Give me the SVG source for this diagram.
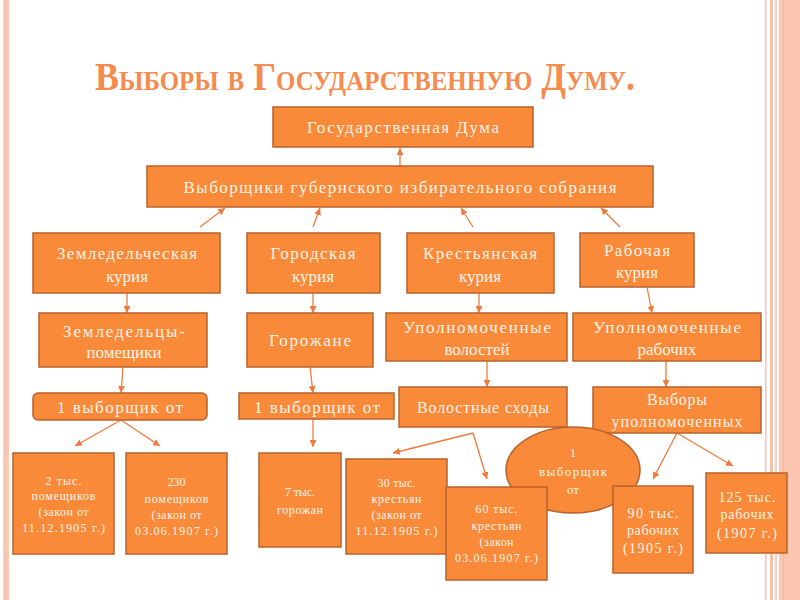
<svg xmlns="http://www.w3.org/2000/svg" width="800" height="600" viewBox="0 0 800 600">
<defs>
<style>
.box{fill:#F98A3A;stroke:#B9622C;stroke-width:1.5}
.t{font-family:"Liberation Serif","DejaVu Serif",serif;fill:#FFF3E8;text-anchor:middle}
.l{font-size:17px}
.m{font-size:16px}
.s{font-size:12px}
.c{stroke:#F07A3C;stroke-width:1.3;fill:none;marker-end:url(#ah)}
.title{font-family:"Liberation Serif","DejaVu Serif",serif;font-size:39px;font-weight:bold;font-variant:small-caps;fill:#F68B4F}
</style>
<marker id="ah" viewBox="0 0 10 10" refX="10" refY="5" markerWidth="7" markerHeight="7" markerUnits="userSpaceOnUse" orient="auto">
<path d="M0,0 L10,5 L0,10 z" fill="#F07A3C"/>
</marker>
</defs>
<rect x="0" y="0" width="800" height="600" fill="#FFFFFF"/>
<g id="border">
<rect x="3" y="0" width="6" height="600" fill="#FBCBB8"/>
<rect x="5.5" y="0" width="1" height="600" fill="#F7B9A2"/>
<rect x="765" y="0" width="1.5" height="600" fill="#F9C2AE"/>
<rect x="770" y="0" width="3" height="600" fill="#F9C0AA"/>
<rect x="775" y="0" width="2" height="600" fill="#FBCDBB"/>
<rect x="779" y="0" width="21" height="600" fill="#FCC6B1"/>
<rect x="783" y="0" width="1" height="600" fill="#F6B49B"/>
</g>
<text class="title" x="365" y="90" textLength="540" lengthAdjust="spacingAndGlyphs" text-anchor="middle">Выборы в Государственную Думу.</text>

<g id="connectors">
<line class="c" x1="400" y1="166" x2="400" y2="148"/>
<line class="c" x1="200" y1="227" x2="225" y2="208"/>
<line class="c" x1="313" y1="227" x2="320" y2="208"/>
<line class="c" x1="473" y1="227" x2="461" y2="208"/>
<line class="c" x1="620" y1="227" x2="601" y2="208"/>
<line class="c" x1="127" y1="293" x2="127" y2="313"/>
<line class="c" x1="313" y1="293" x2="313" y2="313"/>
<line class="c" x1="479" y1="293" x2="479" y2="313"/>
<line class="c" x1="647" y1="287" x2="652" y2="313"/>
<line class="c" x1="123" y1="367" x2="121" y2="393"/>
<line class="c" x1="310" y1="367" x2="313" y2="393"/>
<line class="c" x1="487" y1="361" x2="487" y2="387"/>
<line class="c" x1="666" y1="361" x2="666" y2="387"/>
<line class="c" x1="121" y1="420" x2="75" y2="446"/>
<line class="c" x1="121" y1="420" x2="160" y2="446"/>
<line class="c" x1="313" y1="419" x2="313" y2="447"/>
<line class="c" x1="473" y1="433" x2="393" y2="453"/>
<line class="c" x1="473" y1="433" x2="487" y2="479"/>
<line class="c" x1="677" y1="433" x2="653" y2="479"/>
<line class="c" x1="677" y1="433" x2="733" y2="466"/>
</g>

<g id="duma">
<rect class="box" x="273" y="107" width="260" height="40"/>
<text class="t l" x="403" y="133" textLength="192">Государственная Дума</text>
</g>
<g id="vyborshchiki">
<rect class="box" x="147" y="166" width="506" height="41"/>
<text class="t l" x="400" y="193" textLength="433">Выборщики губернского избирательного собрания</text>
</g>
<g id="zemled-kuriya">
<rect class="box" x="33" y="233" width="187" height="60"/>
<text class="t l" x="127" y="259" textLength="140">Земледельческая</text>
<text class="t l" x="127" y="282">курия</text>
</g>
<g id="gorod-kuriya">
<rect class="box" x="247" y="233" width="133" height="60"/>
<text class="t l" x="313" y="259" textLength="85">Городская</text>
<text class="t l" x="313" y="282">курия</text>
</g>
<g id="krest-kuriya">
<rect class="box" x="407" y="233" width="147" height="60"/>
<text class="t l" x="480" y="259" textLength="114">Крестьянская</text>
<text class="t l" x="480" y="282">курия</text>
</g>
<g id="rab-kuriya">
<rect class="box" x="580" y="233" width="114" height="54"/>
<text class="t l" x="637" y="256" textLength="66">Рабочая</text>
<text class="t l" x="637" y="278">курия</text>
</g>
<g id="zemledeltsy">
<rect class="box" x="39" y="313" width="168" height="54"/>
<text class="t l" x="124" y="337" textLength="122">Земледельцы-</text>
<text class="t l" x="124" y="358">помещики</text>
</g>
<g id="gorozhane">
<rect class="box" x="247" y="313" width="126" height="54"/>
<text class="t l" x="310" y="346" textLength="82">Горожане</text>
</g>
<g id="upoln-volostey">
<rect class="box" x="386" y="313" width="181" height="48"/>
<text class="t l" x="477" y="333" textLength="148">Уполномоченные</text>
<text class="t l" x="477" y="355">волостей</text>
</g>
<g id="upoln-rabochih">
<rect class="box" x="573" y="313" width="188" height="48"/>
<text class="t l" x="667" y="333" textLength="148">Уполномоченные</text>
<text class="t l" x="667" y="355">рабочих</text>
</g>
<g id="vyb-ot-1">
<rect class="box" x="33" y="393" width="174" height="27" rx="5"/>
<text class="t l" x="120" y="413" textLength="126">1 выборщик от</text>
</g>
<g id="vyb-ot-2">
<rect class="box" x="239" y="393" width="155" height="26"/>
<text class="t l" x="317" y="413" textLength="126">1 выборщик от</text>
</g>
<g id="volost-shody">
<rect class="box" x="399" y="387" width="168" height="40"/>
<text class="t m" x="483" y="413" textLength="132">Волостные сходы</text>
</g>
<g id="vybory-upoln">
<rect class="box" x="593" y="387" width="168" height="46"/>
<text class="t m" x="677" y="405" textLength="60">Выборы</text>
<text class="t m" x="677" y="427" textLength="131">уполномоченных</text>
</g>
<g id="p2000">
<rect class="box" x="13" y="453" width="101" height="101"/>
<text class="t s" x="63.5" y="485" textLength="36">2 тыс.</text>
<text class="t s" x="63.5" y="500" textLength="64">помещиков</text>
<text class="t s" x="63.5" y="516" textLength="50">(закон от</text>
<text class="t s" x="63.5" y="532" textLength="83">11.12.1905 г.)</text>
</g>
<g id="p230">
<rect class="box" x="126" y="453" width="101" height="101"/>
<text class="t s" x="176.5" y="486">230</text>
<text class="t s" x="176.5" y="503" textLength="64">помещиков</text>
<text class="t s" x="176.5" y="519" textLength="50">(закон от</text>
<text class="t s" x="176.5" y="535" textLength="83">03.06.1907 г.)</text>
</g>
<g id="g7000">
<rect class="box" x="259" y="453" width="82" height="94"/>
<text class="t s" x="300" y="496" textLength="30">7 тыс.</text>
<text class="t s" x="300" y="514" textLength="46">горожан</text>
</g>
<g id="ellipse-vyb">
<ellipse cx="573" cy="470" rx="67" ry="43" fill="#F98A3A" stroke="#B9622C" stroke-width="1.5"/>
<text class="t" font-size="13" x="573" y="457">1</text>
<text class="t" font-size="13" x="573" y="476" textLength="68">выборщик</text>
<text class="t" font-size="13" x="573" y="494">от</text>
</g>
<g id="k30">
<rect class="box" x="346" y="459" width="101" height="95"/>
<text class="t s" x="396.5" y="487" textLength="38">30 тыс.</text>
<text class="t s" x="396.5" y="503" textLength="50">крестьян</text>
<text class="t s" x="396.5" y="519" textLength="50">(закон от</text>
<text class="t s" x="396.5" y="535" textLength="82">11.12.1905 г.)</text>
</g>
<g id="k60">
<rect class="box" x="446" y="487" width="101" height="93"/>
<text class="t s" x="496.5" y="513" textLength="42">60 тыс.</text>
<text class="t s" x="496.5" y="530" textLength="50">крестьян</text>
<text class="t s" x="496.5" y="546" textLength="34">(закон</text>
<text class="t s" x="496.5" y="562" textLength="83">03.06.1907 г.)</text>
</g>
<g id="r90">
<rect class="box" x="613" y="486" width="80" height="87"/>
<text class="t" font-size="14" x="653" y="518" textLength="51">90 тыс.</text>
<text class="t" font-size="14" x="653" y="535" textLength="52">рабочих</text>
<text class="t" font-size="14" x="653" y="553" textLength="60">(1905 г.)</text>
</g>
<g id="r125">
<rect class="box" x="706" y="473" width="81" height="80"/>
<text class="t" font-size="14" x="747" y="502" textLength="57">125 тыс.</text>
<text class="t" font-size="14" x="747" y="519" textLength="53">рабочих</text>
<text class="t" font-size="14" x="747" y="538" textLength="60">(1907 г.)</text>
</g>
</svg>
